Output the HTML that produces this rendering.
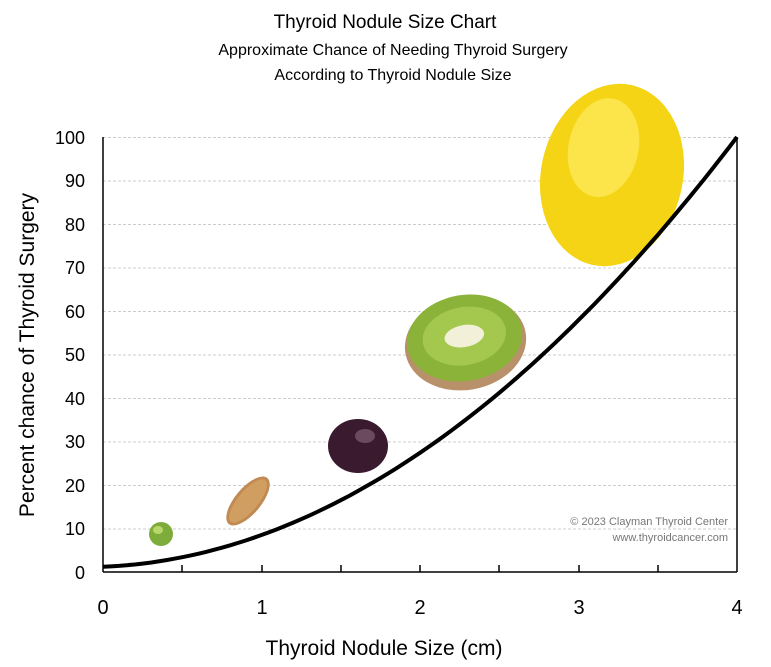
<!DOCTYPE html>
<html><head><style>body{margin:0;background:#fff}svg{display:block}text{font-family:"Liberation Sans","DejaVu Sans",sans-serif}</style></head><body>
<svg width="771" height="667" xmlns="http://www.w3.org/2000/svg">
<rect width="771" height="667" fill="#fff"/>
<text x="385" y="28" font-size="19" text-anchor="middle" fill="#000">Thyroid Nodule Size Chart</text>
<text x="393" y="55" font-size="16" text-anchor="middle" fill="#000">Approximate Chance of Needing Thyroid Surgery</text>
<text x="393" y="80" font-size="16" text-anchor="middle" fill="#000">According to Thyroid Nodule Size</text>
<g stroke="#ccc" stroke-dasharray="3,2" stroke-width="1">
<line x1="103" x2="737" y1="137.5" y2="137.5"/><line x1="103" x2="737" y1="181" y2="181"/><line x1="103" x2="737" y1="224.5" y2="224.5"/><line x1="103" x2="737" y1="268" y2="268"/><line x1="103" x2="737" y1="311.5" y2="311.5"/><line x1="103" x2="737" y1="355" y2="355"/><line x1="103" x2="737" y1="398.5" y2="398.5"/><line x1="103" x2="737" y1="442" y2="442"/><line x1="103" x2="737" y1="485.5" y2="485.5"/><line x1="103" x2="737" y1="529" y2="529"/>
</g>
<g stroke="#000" stroke-width="1.5" fill="none">
<line x1="103" y1="137" x2="103" y2="572"/><line x1="737" y1="137" x2="737" y2="572"/><line x1="103" y1="572" x2="737" y2="572"/>
<line x1="182" y1="572" x2="182" y2="565"/><line x1="262" y1="572" x2="262" y2="565"/><line x1="341" y1="572" x2="341" y2="565"/><line x1="420" y1="572" x2="420" y2="565"/><line x1="499" y1="572" x2="499" y2="565"/><line x1="579" y1="572" x2="579" y2="565"/><line x1="658" y1="572" x2="658" y2="565"/>
</g>
<g font-size="18" text-anchor="end" fill="#000">
<text x="85" y="144">100</text><text x="85" y="187">90</text><text x="85" y="231">80</text><text x="85" y="274">70</text><text x="85" y="318">60</text><text x="85" y="361">50</text><text x="85" y="405">40</text><text x="85" y="448">30</text><text x="85" y="492">20</text><text x="85" y="535">10</text><text x="85" y="579">0</text>
</g>
<g font-size="20" text-anchor="middle" fill="#000">
<text x="103" y="614">0</text><text x="262" y="614">1</text><text x="420" y="614">2</text><text x="579" y="614">3</text><text x="737" y="614">4</text>
</g>
<text x="384" y="655" font-size="21" text-anchor="middle">Thyroid Nodule Size (cm)</text>
<text transform="translate(34,355) rotate(-90)" font-size="21" text-anchor="middle">Percent chance of Thyroid Surgery</text>
<text x="728" y="525" font-size="11" text-anchor="end" fill="#777">© 2023 Clayman Thyroid Center</text>
<text x="728" y="541" font-size="11" text-anchor="end" fill="#777">www.thyroidcancer.com</text>
<ellipse cx="161" cy="534" rx="12" ry="12" fill="#7dac3a"/><ellipse cx="158" cy="530" rx="5" ry="4" fill="#b9d66a"/>
<g transform="rotate(-50 248 501)"><ellipse cx="248" cy="501" rx="30" ry="13" fill="#c08a52"/><ellipse cx="248" cy="501" rx="27" ry="10" fill="#d19e62"/></g>
<ellipse cx="358" cy="446" rx="30" ry="27" fill="#3a1a2e"/><ellipse cx="365" cy="436" rx="10" ry="7" fill="#6b4a60"/>
<g transform="rotate(-10 465 340)"><ellipse cx="465" cy="343" rx="61" ry="47" fill="#b8906a"/><ellipse cx="465" cy="338" rx="58" ry="43" fill="#8bb33a"/><ellipse cx="465" cy="336" rx="42" ry="29" fill="#a4c84e"/><ellipse cx="465" cy="336" rx="20" ry="11" fill="#f2f0d8"/></g>
<g transform="rotate(12 612 175)"><ellipse cx="612" cy="175" rx="71" ry="92" fill="#f5d416"/><ellipse cx="598" cy="150" rx="35" ry="50" fill="#fbe54a"/></g>
<path id="curve" d="" stroke="#000" stroke-width="4" fill="none"/>
<script>
(function(){var d="";for(var i=0;i<=80;i++){var x=i/20;var y=1.2+1.5*x+5.8*x*x;var px=103+158.5*x,py=572-4.35*y;d+=(i?"L":"M")+px.toFixed(1)+","+py.toFixed(1);}document.getElementById("curve").setAttribute("d",d);})();
</script>
</svg>
</body></html>
